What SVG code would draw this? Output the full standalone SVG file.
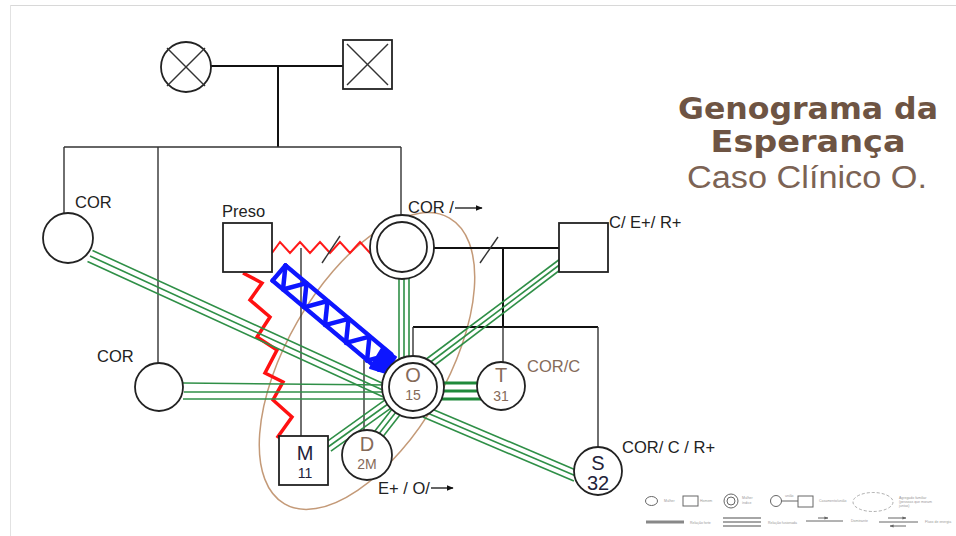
<svg xmlns="http://www.w3.org/2000/svg" width="956" height="536" viewBox="0 0 956 536">
<style>
.n{fill:#fff;stroke:#222;stroke-width:1.8}
.k{stroke:#111;stroke-width:2;fill:none}
.kt{stroke:#333;stroke-width:1.4;fill:none}
.g{stroke:#2f8f47;stroke-width:1.6;fill:none}
.gt{stroke:#1f8a3a;stroke-width:3;fill:none}
.lbl{font-family:"Liberation Sans",Arial,sans-serif;font-size:16.5px;fill:#222}
.br{fill:#856a59}
.dk{fill:#22223a}
.nm{font-family:"Liberation Sans",Arial,sans-serif;font-size:20px;text-anchor:middle}
.ag{font-size:14px}
.lg{fill:none;stroke:#666;stroke-width:1}
.lt{font-family:"Liberation Sans",Arial,sans-serif;font-size:3.5px;fill:#999}
</style>
<defs>
<marker id="ah" viewBox="0 0 10 10" refX="9" refY="5" markerWidth="7" markerHeight="7" markerUnits="userSpaceOnUse" orient="auto"><path d="M0,1 L10,5 L0,9 z" fill="#111"/></marker>
<marker id="ahs" viewBox="0 0 10 10" refX="9" refY="5" markerWidth="4" markerHeight="4" markerUnits="userSpaceOnUse" orient="auto"><path d="M0,1 L10,5 L0,9 z" fill="#666"/></marker>
<filter id="soft" x="-10%" y="-10%" width="120%" height="120%"><feGaussianBlur stdDeviation="0.6"/></filter>
</defs>
<rect width="956" height="536" fill="#fff"/>
<line x1="10" y1="5.5" x2="956" y2="5.5" stroke="#d8d8d8" stroke-width="1"/>
<line x1="10.5" y1="5" x2="10.5" y2="536" stroke="#e2e2e2" stroke-width="1"/>

<g id="title">
<text x="808" y="119" text-anchor="middle" textLength="260" lengthAdjust="spacingAndGlyphs" font-family="DejaVu Sans, sans-serif" font-weight="bold" font-size="29.5" fill="#6e5443">Genograma da</text>
<text x="808" y="152" text-anchor="middle" textLength="195" lengthAdjust="spacingAndGlyphs" font-family="DejaVu Sans, sans-serif" font-weight="bold" font-size="29.5" fill="#6e5443">Esperança</text>
<text x="807" y="188" text-anchor="middle" textLength="240" lengthAdjust="spacingAndGlyphs" font-family="Liberation Sans, Arial, sans-serif" font-size="31" fill="#7c6354">Caso Clínico O.</text>
</g>

<g id="household">
<ellipse cx="367" cy="361" rx="165" ry="80" transform="rotate(-60 367 361)" fill="none" stroke="#c49a78" stroke-width="1.5"/>
</g>

<g id="connectors">
<line class="k" x1="211" y1="66" x2="343" y2="66"/>
<line class="k" x1="278" y1="66" x2="278" y2="147"/>
<line class="kt" x1="64" y1="147" x2="401" y2="147"/>
<line class="kt" x1="64" y1="147" x2="64" y2="213"/>
<line class="kt" x1="158" y1="147" x2="158" y2="363"/>
<line class="kt" x1="401" y1="147" x2="401" y2="215"/>
<line class="kt" x1="301" y1="248" x2="301" y2="436"/>
<line class="kt" x1="364" y1="360" x2="364" y2="430"/>
<line class="k" x1="434" y1="248" x2="559" y2="248"/>
<line class="kt" x1="480" y1="263" x2="498" y2="237"/>
<line class="k" x1="503" y1="248" x2="503" y2="327"/>
<line class="k" x1="413" y1="327" x2="598" y2="327"/>
<line class="kt" x1="413" y1="327" x2="413" y2="356"/>
<line class="kt" x1="503" y1="327" x2="503" y2="362"/>
<line class="kt" x1="598" y1="327" x2="598" y2="447"/>

<polyline points="272,253 280,242 290,253 300,242 310,253 320,242 330,253 340,242 350,253 360,242 370,253 374,248" fill="none" stroke="#ff1a1a" stroke-width="2" stroke-linejoin="miter"/>
<line class="kt" x1="322" y1="263" x2="340" y2="236"/>
<polyline points="243,273 262,283 250,300 270,317 257,337 277,350 265,373 283,382 273,400 292,417 277,438" fill="none" stroke="#ff1111" stroke-width="3.5" stroke-linejoin="miter"/>

<g filter="url(#soft)">
<g stroke="#0a14ff" stroke-width="4.5" stroke-linecap="round" stroke-linejoin="round" fill="none">
<line x1="285.5" y1="265.4" x2="391.5" y2="354.4"/>
<line x1="272.5" y1="280.6" x2="378.5" y2="369.6"/>
<line x1="285.5" y1="265.4" x2="272.5" y2="280.6"/>
<polyline points="285.5,265.4 283,289.5 306.5,283.2 304,307.3 327.5,301 325,325.1 348.5,318.8 346,342.9 369.5,336.6 367,360.7 390.5,354.4"/>
</g>
<polygon points="382,348 396,357 386,373 370,368" fill="#0a14ff" stroke="#0a14ff" stroke-width="2" stroke-linejoin="round"/>
</g>

<line class="g" x1="87.5" y1="261.5" x2="384.5" y2="397.5"/>
<line class="g" x1="90" y1="256" x2="387" y2="392"/>
<line class="g" x1="92.5" y1="250.5" x2="389.5" y2="386.5"/>
<line class="g" x1="183" y1="383" x2="388" y2="385"/>
<line class="g" x1="184" y1="392" x2="388" y2="392"/>
<line class="g" x1="183" y1="399" x2="388" y2="399"/>
<line class="g" x1="399" y1="278" x2="399" y2="361"/>
<line class="g" x1="404" y1="279" x2="404" y2="360"/>
<line class="g" x1="409" y1="278" x2="409" y2="361"/>
<line class="g" x1="560" y1="259" x2="425" y2="360"/>
<line class="g" x1="560" y1="264.5" x2="428" y2="364"/>
<line class="g" x1="560" y1="270" x2="431" y2="368"/>
<line class="gt" x1="437" y1="383" x2="481" y2="383"/>
<line class="gt" x1="437" y1="391" x2="479" y2="391"/>
<line class="gt" x1="437" y1="399" x2="481" y2="399"/>
<line class="g" x1="427.1" y1="406.9" x2="578.1" y2="470.9"/>
<line class="g" x1="425" y1="412" x2="576" y2="476"/>
<line class="g" x1="422.9" y1="417.1" x2="573.9" y2="481.1"/>
<line class="g" x1="392.1" y1="408.9" x2="374.1" y2="431.9"/>
<line class="g" x1="396" y1="412" x2="378" y2="435"/>
<line class="g" x1="399.9" y1="415.1" x2="381.9" y2="438.1"/>
<line class="g" x1="385.1" y1="399.9" x2="325.1" y2="442.9"/>
<line class="g" x1="388" y1="404" x2="328" y2="447"/>
<line class="g" x1="390.9" y1="408.1" x2="330.9" y2="451.1"/>
</g>

<g id="grandmother">
<circle class="n" cx="186" cy="67" r="25" fill="none"/>
<line class="kt" x1="167" y1="48" x2="205" y2="86"/>
<line class="kt" x1="205" y1="48" x2="167" y2="86"/>
</g>
<g id="grandfather">
<rect class="n" x="343" y="40" width="49" height="49"/>
<line class="kt" x1="347" y1="44" x2="388" y2="85"/>
<line class="kt" x1="388" y1="44" x2="347" y2="85"/>
</g>
<g id="cor-left-top">
<circle class="n" cx="68" cy="238" r="25"/>
<text class="lbl" x="75" y="208">COR</text>
</g>
<g id="cor-left-mid">
<circle class="n" cx="159" cy="387" r="24"/>
<text class="lbl" x="97" y="362">COR</text>
</g>
<g id="preso">
<rect class="n" x="223" y="223" width="49" height="49"/>
<text class="lbl" x="222" y="217" font-size="18">Preso</text>
</g>
<g id="cor-mother">
<circle class="n" cx="402" cy="247" r="32"/>
<circle class="n" cx="402" cy="247" r="25"/>
<text class="lbl" x="408" y="213">COR /</text>
<line x1="455" y1="208" x2="482" y2="208" stroke="#111" stroke-width="1.3" marker-end="url(#ah)"/>
</g>
<g id="partner">
<rect class="n" x="559" y="223" width="49" height="49"/>
<text class="lbl" x="609" y="228">C/ E+/ R+</text>
</g>
<g id="O">
<circle class="n" cx="413" cy="387" r="31" fill="none"/>
<circle class="n" cx="413" cy="387" r="24" fill="none"/>
<text class="nm br" x="413" y="382">O</text>
<text class="nm br ag" x="413" y="400">15</text>
</g>
<g id="T">
<circle class="n" cx="501" cy="386" r="24"/>
<text class="nm br" x="501" y="382">T</text>
<text class="nm br ag" x="501" y="401">31</text>
<text class="lbl br" x="527" y="372">COR/C</text>
</g>
<g id="S">
<circle class="n" cx="598" cy="471" r="24"/>
<text class="nm dk" x="598" y="470">S</text>
<text class="nm dk" x="598" y="490" font-size="15">32</text>
<text class="lbl" x="622" y="453">COR/ C / R+</text>
</g>
<g id="M">
<rect class="n" x="279" y="436" width="49" height="49"/>
<text class="nm dk" x="305" y="460">M</text>
<text class="nm dk ag" x="305" y="478">11</text>
</g>
<g id="D">
<circle class="n" cx="367" cy="455" r="25"/>
<text class="nm br" x="367" y="451">D</text>
<text class="nm br ag" x="367" y="469">2M</text>
<text class="lbl" x="378" y="494">E+ / O/</text>
<line x1="431" y1="488" x2="453" y2="488" stroke="#111" stroke-width="1.3" marker-end="url(#ah)"/>
</g>

<g id="legend">
<ellipse class="lg" cx="651.5" cy="501" rx="6" ry="4.5"/>
<text class="lt" x="664" y="502">Mulher</text>
<rect class="lg" x="683" y="496" width="15" height="10"/>
<text class="lt" x="700" y="502">Homem</text>
<circle class="lg" cx="731" cy="501" r="7"/>
<circle class="lg" cx="731" cy="501" r="4"/>
<text class="lt" x="742" y="499">Mulher</text>
<text class="lt" x="742" y="504">índice</text>
<circle class="lg" cx="776" cy="501" r="5.5"/>
<line class="lg" x1="781.5" y1="501" x2="798" y2="501"/>
<rect class="lg" x="798" y="496" width="15" height="11"/>
<text class="lt" x="785" y="497">união</text>
<text class="lt" x="819" y="502">Casamento/união</text>
<ellipse cx="873" cy="502" rx="20" ry="9.5" fill="none" stroke="#999" stroke-width="0.8" stroke-dasharray="3 2"/>
<text class="lt" x="899" y="499">Agregado familiar</text>
<text class="lt" x="899" y="503">(pessoas que moram</text>
<text class="lt" x="899" y="507">juntas)</text>
<line x1="646" y1="522" x2="684" y2="522" stroke="#888" stroke-width="3"/>
<text class="lt" x="690" y="524">Relação forte</text>
<line x1="723" y1="518" x2="761" y2="518" stroke="#888" stroke-width="1.6"/>
<line x1="723" y1="522" x2="761" y2="522" stroke="#888" stroke-width="1.6"/>
<line x1="723" y1="526" x2="761" y2="526" stroke="#888" stroke-width="1.6"/>
<text class="lt" x="768" y="524">Relação fusionada</text>
<line class="lg" x1="806" y1="521" x2="843" y2="521"/>
<line class="lg" x1="818" y1="518" x2="828" y2="518" marker-end="url(#ahs)"/>
<text class="lt" x="851" y="522">Dominante</text>
<line class="lg" x1="879" y1="522" x2="918" y2="522"/>
<line class="lg" x1="888" y1="518" x2="906" y2="518" marker-end="url(#ahs)"/>
<line class="lg" x1="906" y1="526" x2="890" y2="526" marker-end="url(#ahs)"/>
<text class="lt" x="925" y="523">Fluxo de energia</text>
</g>
</svg>
